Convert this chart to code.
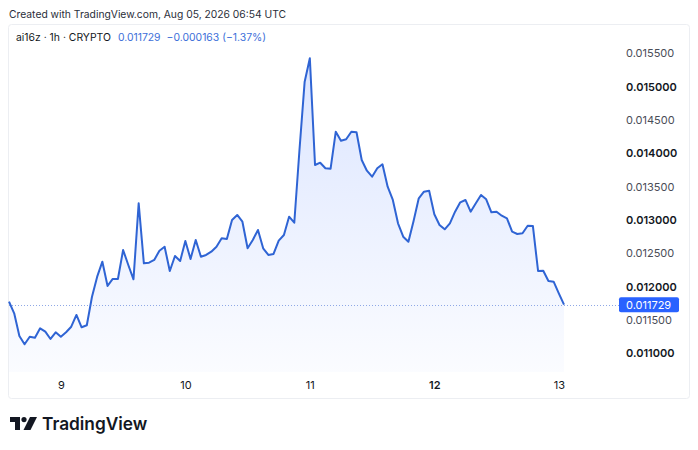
<!DOCTYPE html>
<html>
<head>
<meta charset="utf-8">
<script src="https://cdn.jsdelivr.net/npm/d3@7"></script>
<style>
  html, body { margin: 0; padding: 0; background: #fff; }
  svg { display: block; font-family: Inter, 'Noto Sans', sans-serif; }
</style>
</head>
<body>
<div id="chart"></div>
<script>
// ai16z hourly closes, Aug 8 14:00 UTC -> Aug 13 01:00 UTC
const startTime = new Date(Date.UTC(2026, 7, 8, 14))

const prices = [
  0.011774, 0.011600, 0.011260, 0.011135, 0.011249, 0.011234, 0.011375, 0.011324,
  0.011215, 0.011315, 0.011249, 0.011315, 0.011399, 0.011575, 0.011390, 0.011420,
  0.011849, 0.012149, 0.012374, 0.012010, 0.012115, 0.012115, 0.012550, 0.012325,
  0.012110, 0.013250, 0.012350, 0.012359, 0.012400, 0.012539, 0.012599, 0.012235,
  0.012460, 0.012385, 0.012685, 0.012415, 0.012700, 0.012449, 0.012475, 0.012524,
  0.012599, 0.012725, 0.012715, 0.013000, 0.013075, 0.012974, 0.012575, 0.012700,
  0.012850, 0.012575, 0.012475, 0.012490, 0.012689, 0.012775, 0.013049, 0.012959,
  0.014050, 0.015074, 0.015425, 0.013825, 0.013859, 0.013775, 0.013769, 0.014324,
  0.014189, 0.014210, 0.014324, 0.014315, 0.013900, 0.013739, 0.013649, 0.013775,
  0.013835, 0.013499, 0.013300, 0.012950, 0.012749, 0.012674, 0.012985, 0.013325,
  0.013424, 0.013439, 0.013085, 0.012925, 0.012860, 0.012950, 0.013124, 0.013265,
  0.013300, 0.013124, 0.013250, 0.013375, 0.013310, 0.013115, 0.013124, 0.013064,
  0.013025, 0.012824, 0.012790, 0.012800, 0.012914, 0.012910, 0.012235, 0.012239,
  0.012085, 0.012074, 0.011900, 0.011729
]

const priceTicks = [0.011, 0.0115, 0.012, 0.0125, 0.013, 0.0135, 0.014, 0.0145, 0.015, 0.0155]
const dayTicks = [9, 10, 11, 12, 13]

const lastPrice = 0.011729
const headerSymbol = 'ai16z · 1h · CRYPTO'
const headerPrice = '0.011729'
const headerChange = '\u22120.000163 (\u22121.37%)'
const createdText = 'Created with TradingView.com, Aug 05, 2026 06:54 UTC'

const width = 698
const height = 450
const pane = { left: 8, right: 689, top: 24, bottom: 398 }

const data = prices.map((p, i) => ({ t: d3.utcHour.offset(startTime, i), p: p }))

const svg = d3
  .select('#chart')
  .append('svg')
  .attr('width', width)
  .attr('height', height)

svg.append('rect').attr('width', width).attr('height', height).attr('fill', '#fff')

const xScale = d3
  .scaleUtc()
  .domain([data[0].t, data[data.length - 1].t])
  .range([9, 564])

const yScale = d3
  .scaleLinear()
  .domain([0.011, 0.0155])
  .range([353.3, 53.3])

// panel frame
svg
  .append('rect')
  .attr('x', pane.left + 0.5)
  .attr('y', pane.top + 0.5)
  .attr('width', pane.right - pane.left)
  .attr('height', pane.bottom - pane.top)
  .attr('rx', 3)
  .attr('fill', 'none')
  .attr('stroke', '#eceef2')

// area gradient
const defs = svg.append('defs')
const grad = defs
  .append('linearGradient')
  .attr('id', 'areaFill')
  .attr('gradientUnits', 'userSpaceOnUse')
  .attr('x1', 0).attr('x2', 0)
  .attr('y1', 50).attr('y2', 372)
grad.append('stop').attr('offset', 0).attr('stop-color', '#2962ff').attr('stop-opacity', 0.17)
grad.append('stop').attr('offset', 1).attr('stop-color', '#2962ff').attr('stop-opacity', 0.02)

const area = d3
  .area()
  .x(d => xScale(d.t))
  .y0(372)
  .y1(d => yScale(d.p))

const line = d3
  .line()
  .x(d => xScale(d.t))
  .y(d => yScale(d.p))

svg.append('path').datum(data).attr('d', area).attr('fill', 'url(#areaFill)')

// last price dotted line
svg
  .append('line')
  .attr('x1', pane.left + 1)
  .attr('x2', 619)
  .attr('y1', Math.round(yScale(lastPrice)) + 0.5)
  .attr('y2', Math.round(yScale(lastPrice)) + 0.5)
  .attr('stroke', '#8fa8e6')
  .attr('stroke-width', 1)
  .attr('stroke-dasharray', '1,2')

svg
  .append('path')
  .datum(data)
  .attr('d', line)
  .attr('fill', 'none')
  .attr('stroke', '#2f64d4')
  .attr('stroke-width', 2)
  .attr('stroke-linejoin', 'round')

// price axis
const yAxis = d3
  .axisRight(yScale)
  .tickValues(priceTicks)
  .tickSize(0)
  .tickPadding(0)
  .tickFormat(d => d.toFixed(6))

const yG = svg
  .append('g')
  .attr('class', 'axis y-axis')
  .attr('transform', 'translate(626,0)')
  .call(yAxis)

yG.select('.domain').remove()
yG.selectAll('text')
  .attr('font-size', 11)
  .attr('font-family', 'Inter, sans-serif')
  .attr('fill', d => (Math.round(d * 10000) % 10 === 0 ? '#131722' : '#4a4d57'))
  .attr('font-weight', d => (Math.round(d * 10000) % 10 === 0 ? 600 : 400))

// last price tag
const tagY = yScale(lastPrice)
svg
  .append('rect')
  .attr('x', 619)
  .attr('y', tagY - 7.5)
  .attr('width', 60)
  .attr('height', 15)
  .attr('rx', 2)
  .attr('fill', '#2962ff')
svg
  .append('text')
  .attr('x', 626)
  .attr('y', tagY)
  .attr('dy', '0.36em')
  .attr('font-size', 11)
  .attr('fill', '#fff')
  .text(lastPrice.toFixed(6))

// time axis
const xAxis = d3
  .axisBottom(xScale)
  .tickValues(dayTicks.map(d => new Date(Date.UTC(2026, 7, d))))
  .tickSize(0)
  .tickPadding(0)
  .tickFormat(d => d.getUTCDate())

const xG = svg
  .append('g')
  .attr('class', 'axis x-axis')
  .attr('transform', 'translate(0,381)')
  .call(xAxis)

xG.select('.domain').remove()
xG.selectAll('text')
  .attr('font-size', 11)
  .attr('font-family', 'Inter, sans-serif')
  .attr('fill', '#131722')
  .attr('font-weight', d => (d.getUTCDate() === 12 ? 600 : 400))

// header texts
svg
  .append('text')
  .attr('x', 9)
  .attr('y', 18)
  .attr('font-size', 10.3)
  .attr('fill', '#2a2e39')
  .text(createdText)

const legend = svg
  .append('text')
  .attr('x', 16)
  .attr('y', 41)
  .attr('font-size', 10.4)
legend.append('tspan').attr('fill', '#131722').text(headerSymbol)
legend.append('tspan').attr('dx', 7).attr('fill', '#3d6fd9').text(headerPrice)
legend.append('tspan').attr('dx', 6).attr('fill', '#3d6fd9').text(headerChange)

// TradingView logo
const logo = svg.append('g').attr('transform', 'translate(10,417)').attr('fill', '#131722')
logo.append('path').attr('d', 'M0,0 H10 V13 H5 V5 H0 Z')
logo.append('circle').attr('cx', 14).attr('cy', 2.6).attr('r', 2.6)
logo.append('path').attr('d', 'M20,0 H27 L20.5,13 H13.5 Z')

svg
  .append('text')
  .attr('x', 42)
  .attr('y', 430)
  .attr('font-size', 17.3)
  .attr('font-weight', 600)
  .attr('fill', '#131722')
  .text('TradingView')
</script>
</body>
</html>
